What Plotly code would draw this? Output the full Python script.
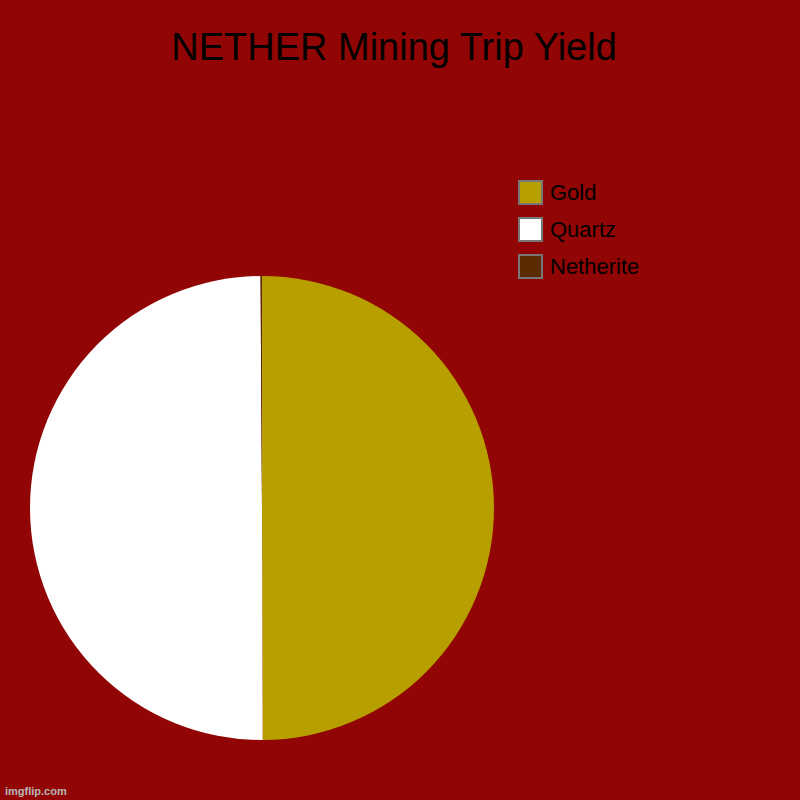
import plotly.graph_objects as go

# Slice data
labels = ['Gold', 'Quartz', 'Netherite']
values = [500, 500, 1]
colors = ['#b89f00', '#ffffff', '#5a2a00']

BG = '#920505'
FONT = 'Liberation Sans, Arial, sans-serif'

fig = go.Figure()

fig.add_trace(go.Pie(
    labels=labels,
    values=values,
    sort=False,
    direction='clockwise',
    rotation=0,
    textinfo='none',
    hoverinfo='label+value+percent',
    marker=dict(colors=colors, line=dict(width=0)),
    domain=dict(x=[30 / 800, 494 / 800], y=[60 / 800, 524 / 800]),
    showlegend=False,
))

# Legend built by hand so the boxes match the reference size
for i, (lab, col) in enumerate(zip(labels, colors)):
    top = 181 + i * 37
    fig.add_shape(
        type='rect', xref='paper', yref='paper',
        x0=519 / 800, x1=542 / 800,
        y0=1 - (top + 23) / 800, y1=1 - top / 800,
        fillcolor=col, line=dict(color='#777777', width=2),
    )
    fig.add_annotation(
        x=548 / 800, y=1 - (top + 11.5) / 800, xref='paper', yref='paper',
        text=lab, showarrow=False, xanchor='left', yanchor='middle',
        font=dict(size=22, color='#000000', family=FONT),
    )

fig.add_annotation(
    x=3 / 800, y=1 - 791 / 800, xref='paper', yref='paper',
    text='<b>imgflip.com</b>', showarrow=False, xanchor='left', yanchor='middle',
    font=dict(size=11, color='#b8b8b8', family=FONT),
)

fig.update_layout(
    width=800,
    height=800,
    margin=dict(l=0, r=0, t=0, b=0),
    paper_bgcolor=BG,
    plot_bgcolor=BG,
    title=dict(
        text='NETHER Mining Trip Yield',
        x=394 / 800, xanchor='center',
        y=1 - 47 / 800, yanchor='middle',
        font=dict(size=38, color='#000000', family=FONT),
    ),
)

fig.write_html('out.html', config={'displayModeBar': False},
               post_script="document.body.style.margin='0';")
